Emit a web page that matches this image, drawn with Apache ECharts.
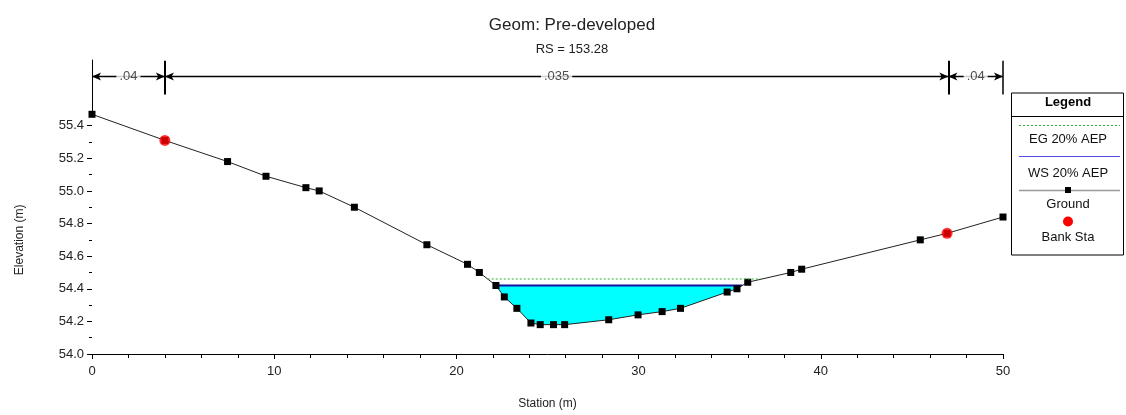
<!DOCTYPE html>
<html>
<head>
<meta charset="utf-8">
<title>Geom: Pre-developed</title>
<script src="https://cdn.jsdelivr.net/npm/echarts@6/dist/echarts.min.js"></script>
<style>
    html, body { margin: 0; padding: 0; background: #fff; }
    #main { width: 1126px; height: 415px; }
</style>
</head>
<body>
<div id="main"></div>
<script>
// ground points (station m, elevation m)
var stations   = [0, 4.0, 7.44, 9.55, 11.74, 12.47, 14.4, 18.38, 20.61, 21.26, 22.17, 22.63, 23.32, 24.09,
                  24.6, 25.33, 25.94, 28.36, 29.97, 31.29, 32.3, 34.86, 35.4, 35.99, 38.35, 38.95, 45.46, 46.93, 50.0];
var elevations = [55.47, 55.31, 55.18, 55.09, 55.02, 55.00, 54.90, 54.67, 54.55, 54.50, 54.42, 54.35, 54.28, 54.19,
                  54.18, 54.18, 54.18, 54.21, 54.24, 54.26, 54.28, 54.38, 54.40, 54.44, 54.50, 54.52, 54.70, 54.74, 54.84];
// bank stations
var bankSta  = [4.0, 46.93];
var bankElev = [55.31, 54.74];
// 20% AEP water surface and energy grade
var wsElev = 54.42;
var wsStations = [22.17, 35.7];
var egElev = 54.46;
var egStations = [21.72, 36.7];
// manning's n
var nBreaks = [0, 4, 47, 50];
var nValues = ['.04', '.035', '.04'];
var nLevel = 55.7;

var font = '"Liberation Sans", Arial, sans-serif';
var chart = echarts.init(document.getElementById('main'), null, {renderer: 'canvas'});

var groundData = stations.map(function (s, i) { return [s, elevations[i]]; });
var bankData = bankSta.map(function (s, i) { return [s, bankElev[i]]; });

var nSegments = [];
var nLabels = [];
for (var i = 0; i < nValues.length; i++) {
    nSegments.push([{coord: [nBreaks[i], nLevel]}, {coord: [nBreaks[i + 1], nLevel]}]);
    nLabels.push([(nBreaks[i] + nBreaks[i + 1]) / 2, nLevel, nValues[i]]);
}
// vertical markers at the n breaks (the axis itself is at 0)
for (var j = 1; j < nBreaks.length; j++) {
    nSegments.push([
        {coord: [nBreaks[j], 55.59], symbol: 'none', lineStyle: {width: j < nBreaks.length - 1 ? 2 : 1.5}},
        {coord: [nBreaks[j], 55.795], symbol: 'none'}
    ]);
}

var lx = 1011.5, ly = 93, lw = 112, lh = 162, lc = 1068;

var option = {
    backgroundColor: '#fff',
    animation: false,
    title: {
        text: 'Geom: Pre-developed',
        subtext: 'RS = 153.28',
        left: 567,
        textAlign: 'center',
        top: 12,
        itemGap: 9,
        textStyle: {fontFamily: font, fontSize: 17, fontWeight: 'normal', color: '#222'},
        subtextStyle: {fontFamily: font, fontSize: 13, color: '#222'}
    },
    grid: [
        {left: 92, right: 123, top: 125.7, bottom: 59.3},
        {left: 92, right: 123, top: 60, height: 65.7}
    ],
    xAxis: [
        {
            type: 'value', gridIndex: 0, min: 0, max: 50, interval: 10,
            name: 'Station (m)', nameLocation: 'middle', nameGap: 44,
            nameTextStyle: {fontFamily: font, fontSize: 12, color: '#222'},
            axisLine: {onZero: false, lineStyle: {color: '#000', width: 1}},
            axisTick: {length: 5, lineStyle: {color: '#000'}},
            minorTick: {show: true, splitNumber: 5, length: 4, lineStyle: {color: '#000'}},
            splitLine: {show: false},
            axisLabel: {fontFamily: font, fontSize: 13, color: '#222', margin: 11}
        },
        {
            type: 'value', gridIndex: 1, min: 0, max: 50, show: false
        }
    ],
    yAxis: [
        {
            type: 'value', gridIndex: 0, min: 54.0, max: 55.4, interval: 0.2,
            name: 'Elevation (m)', nameLocation: 'middle', nameGap: 66,
            nameTextStyle: {fontFamily: font, fontSize: 12, color: '#222'},
            axisLine: {show: true, onZero: false, lineStyle: {color: '#000', width: 1}},
            axisTick: {show: true, length: 5, lineStyle: {color: '#000'}},
            minorTick: {show: true, splitNumber: 2, length: 3, lineStyle: {color: '#000'}},
            splitLine: {show: false},
            axisLabel: {fontFamily: font, fontSize: 13, color: '#222', margin: 8,
                formatter: function (v) { return v.toFixed(1); }}
        },
        {
            type: 'value', gridIndex: 1, min: 55.4, max: 55.8,
            axisLine: {show: true, onZero: false, lineStyle: {color: '#000', width: 1}},
            axisTick: {show: false}, axisLabel: {show: false}, splitLine: {show: false}
        }
    ],
    series: [
        {
            name: 'WS 20% AEP', type: 'line', xAxisIndex: 0, yAxisIndex: 0,
            data: wsStations.map(function (s) { return [s, wsElev]; }),
            symbol: 'none', z: 1,
            lineStyle: {color: '#1414a0', width: 2},
            areaStyle: {color: '#00ffff', opacity: 1, origin: 'start'}
        },
        {
            name: 'Ground', type: 'line', xAxisIndex: 0, yAxisIndex: 0,
            data: groundData, clip: false, z: 2,
            symbol: 'rect', symbolSize: 7, showAllSymbol: true,
            itemStyle: {color: '#000'},
            lineStyle: {color: '#222', width: 1},
            areaStyle: {color: '#fff', opacity: 1, origin: 'start'}
        },
        {
            name: 'EG 20% AEP', type: 'line', xAxisIndex: 0, yAxisIndex: 0,
            data: egStations.map(function (s) { return [s, egElev]; }),
            symbol: 'none', z: 3,
            lineStyle: {color: '#33b033', width: 1, type: [2, 2]}
        },
        {
            name: 'Bank Sta', type: 'scatter', xAxisIndex: 0, yAxisIndex: 0,
            data: bankData, clip: false, z: 5,
            symbol: 'circle', symbolSize: 11,
            itemStyle: {color: '#ff0000'}
        },
        {
            name: 'n', type: 'line', xAxisIndex: 1, yAxisIndex: 1,
            data: nBreaks.map(function (b) { return [b, nLevel]; }),
            showSymbol: false, lineStyle: {width: 0},
            markLine: {
                silent: true, animation: false,
                symbol: ['arrow', 'arrow'], symbolSize: [6, 9],
                lineStyle: {color: '#000', width: 1.3, type: 'solid'},
                label: {show: false},
                data: nSegments
            }
        },
        {
            name: 'n values', type: 'scatter', xAxisIndex: 1, yAxisIndex: 1,
            data: nLabels, symbolSize: 0, z: 6,
            label: {
                show: true, position: 'inside',
                formatter: function (p) { return p.value[2]; },
                fontFamily: font, fontSize: 13, color: '#222',
                backgroundColor: '#fff', padding: [1, 3]
            }
        }
    ],
    graphic: [
        {type: 'rect', z: 10, shape: {x: lx, y: ly, width: lw, height: lh},
            style: {fill: '#fff', stroke: '#000', lineWidth: 1}},
        {type: 'text', z: 11, x: lc, y: ly + 9, style: {text: 'Legend', font: 'bold 13px ' + font,
            textAlign: 'center', textVerticalAlign: 'middle', fill: '#000'}},
        {type: 'line', z: 11, shape: {x1: lx, y1: 116.5, x2: lx + lw, y2: 116.5}, style: {stroke: '#000', lineWidth: 1}},
        {type: 'line', z: 11, shape: {x1: 1019, y1: 125.5, x2: 1120, y2: 125.5},
            style: {stroke: '#33b033', lineWidth: 1, lineDash: [2, 2]}},
        {type: 'text', z: 11, x: lc, y: 139, style: {text: 'EG 20% AEP', font: '13px ' + font,
            textAlign: 'center', textVerticalAlign: 'middle', fill: '#111'}},
        {type: 'line', z: 11, shape: {x1: 1019, y1: 156.5, x2: 1120, y2: 156.5},
            style: {stroke: '#5050e0', lineWidth: 1}},
        {type: 'text', z: 11, x: lc, y: 173, style: {text: 'WS 20% AEP', font: '13px ' + font,
            textAlign: 'center', textVerticalAlign: 'middle', fill: '#111'}},
        {type: 'line', z: 11, shape: {x1: 1019, y1: 190.5, x2: 1120, y2: 190.5},
            style: {stroke: '#999', lineWidth: 1.5}},
        {type: 'rect', z: 12, shape: {x: lc - 3, y: 187, width: 6, height: 6}, style: {fill: '#000'}},
        {type: 'text', z: 11, x: lc, y: 204, style: {text: 'Ground', font: '13px ' + font,
            textAlign: 'center', textVerticalAlign: 'middle', fill: '#111'}},
        {type: 'circle', z: 11, shape: {cx: lc, cy: 221.5, r: 5}, style: {fill: '#ff0000'}},
        {type: 'text', z: 11, x: lc, y: 237, style: {text: 'Bank Sta', font: '13px ' + font,
            textAlign: 'center', textVerticalAlign: 'middle', fill: '#111'}}
    ]
};

chart.setOption(option);
</script>
</body>
</html>
